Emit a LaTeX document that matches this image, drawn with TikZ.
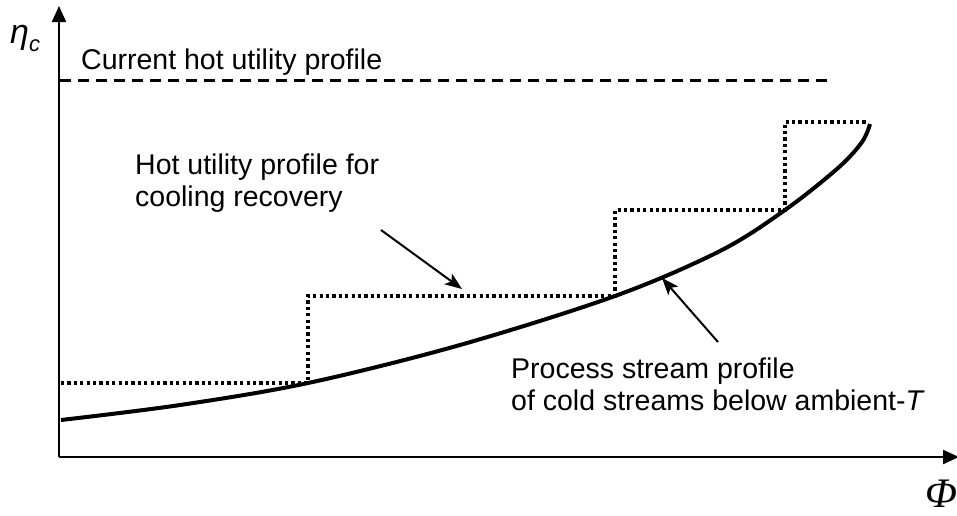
\documentclass[tikz,border=0pt]{standalone}
\usepackage{fontspec}
\setmainfont{Liberation Sans}
\newfontfamily\serifgreek{Liberation Serif}
\usetikzlibrary{arrows.meta}
\begin{document}
\begin{tikzpicture}[x=1pt,y=-1pt,
  lbl/.style={font=\fontsize{28.5}{32}\selectfont, anchor=base west, inner sep=0pt},
  axis/.style={line width=2.2pt, -{Triangle[length=16pt,width=14pt]}},
  pointer/.style={line width=2pt, -{Stealth[length=17pt,width=13pt,inset=4pt]}},
  curve/.style={line width=4pt},
  steps/.style={line width=3.2pt, dash pattern=on 3.2pt off 3.2pt},
  hotline/.style={line width=3pt, dash pattern=on 11pt off 7pt}]
\useasboundingbox (0,0) rectangle (957,515);
% axes
\coordinate (O) at (59,457);
\coordinate (ytop) at (59,6);
\coordinate (xend) at (959,457);
\draw[axis] (O) -- (ytop);
\draw[axis] (O) -- (xend);
\node[inner sep=0pt, anchor=base west] (eta) at (10,43) {\fontsize{34}{34}\selectfont\itshape η\raisebox{-8pt}{\fontsize{22}{22}\selectfont c}};
\node[inner sep=0pt, anchor=base west] (phi) at (925,507) {\serifgreek\fontsize{42}{42}\selectfont\itshape Φ};
% current hot utility
\coordinate (h1) at (60,80);
\coordinate (h2) at (830,80);
\draw[hotline] (h1) -- (h2);
\node[lbl] (cur) at (81,69) {Current hot utility profile};
% process curve
\draw[curve] plot[smooth, tension=0.55] coordinates {(61,420) (180,405) (308,383) (460,345) (615,296) (720,251) (785,210) (838,168) (862,142) (870,124)};
% hot utility steps
\coordinate (s0) at (61,383);
\coordinate (s1) at (308,383);
\coordinate (s2) at (308,296);
\coordinate (s3) at (615,296);
\coordinate (s4) at (615,210);
\coordinate (s5) at (785,210);
\coordinate (s6) at (785,122);
\coordinate (s7) at (867,122);
\draw[steps] (s0) -- (s1) -- (s2) -- (s3) -- (s4) -- (s5) -- (s6) -- (s7);
% labels
\node[lbl] (hot1) at (135,174) {Hot utility profile for};
\node[lbl] (hot2) at (135,206) {cooling recovery};
\coordinate (a1s) at (381,230);
\coordinate (a1e) at (462,289);
\draw[pointer] (a1s) -- (a1e);
\node[lbl] (proc1) at (511,378) {Process stream profile};
\node[lbl] (proc2) at (511,410) {of cold streams below ambient-\textit{T}};
\coordinate (a2s) at (718,342);
\coordinate (a2e) at (662,278);
\draw[pointer] (a2s) -- (a2e);
\end{tikzpicture}
\end{document}
